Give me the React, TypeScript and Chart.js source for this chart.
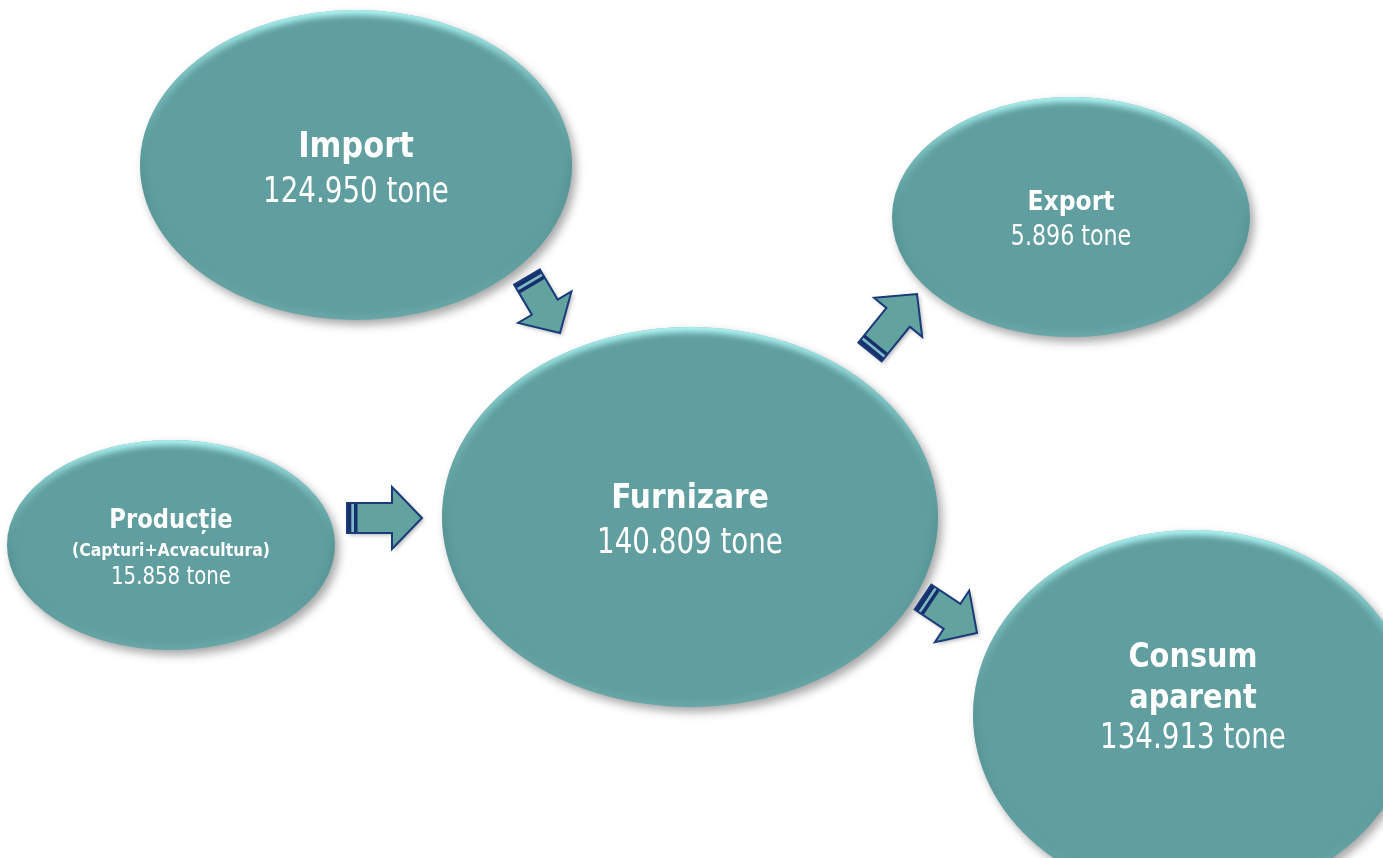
import React, { useEffect, useRef } from 'react';
import { Chart, registerables } from 'chart.js';

Chart.register(...registerables);

// ---------- data ----------
const NODE_NAMES = ['Import', 'Export', 'Producție', 'Furnizare', 'Consum aparent'];
const NODE_NOTES = ['', '', '(Capturi+Acvacultura)', '', ''];
const NODE_TONNES = [124950, 5896, 15858, 140809, 134913];
const UNIT = 'tone';
const FLOW_FROM = ['Import', 'Producție', 'Furnizare', 'Furnizare'];
const FLOW_TO = ['Furnizare', 'Furnizare', 'Export', 'Consum aparent'];

// ---------- layout (diagram units = hidden axis units) ----------
const W = 1383;
const H = 858;

type NodeLayout = {
  cx: number; cy: number; rx: number; ry: number;
  titleSize: number; noteSize: number; valueSize: number;
  wrap: boolean; baselines: number[];
};

const NODE_LAYOUT: Record<string, NodeLayout> = {
  'Import': { cx: 356, cy: 165, rx: 216, ry: 155, titleSize: 35, noteSize: 0, valueSize: 35, wrap: false, baselines: [157, 202] },
  'Export': { cx: 1071, cy: 217, rx: 179, ry: 120, titleSize: 27, noteSize: 0, valueSize: 28, wrap: false, baselines: [210, 245] },
  'Producție': { cx: 171, cy: 545, rx: 164, ry: 105, titleSize: 26, noteSize: 18, valueSize: 25, wrap: false, baselines: [528, 556, 584] },
  'Furnizare': { cx: 690, cy: 517, rx: 248, ry: 190, titleSize: 34, noteSize: 0, valueSize: 35, wrap: false, baselines: [508, 553] },
  'Consum aparent': { cx: 1193, cy: 715, rx: 220, ry: 185, titleSize: 33, noteSize: 0, valueSize: 35, wrap: true, baselines: [667, 708, 748] },
};

// tail point -> tip point for each flow arrow
const FLOW_LAYOUT = [
  { tx: 527, ty: 277, hx: 560, hy: 333 },
  { tx: 347, ty: 518, hx: 422, hy: 518 },
  { tx: 870, ty: 352, hx: 917, hy: 294 },
  { tx: 923, ty: 597, hx: 977, hy: 633 },
];

const SHAFT_W = 30;
const HEAD_W = 62;
const HEAD_L = 30;

const FILL = '#609e9f';
const ARROW_FILL = '#62a29f';
const NAVY = '#1b3a7a';
const NAVY_DARK = '#17306b';

const BOLD_FONT = '"DejaVu Sans Condensed", "DejaVu Sans", sans-serif';
const REG_FONT = '"DejaVu Sans Condensed", "DejaVu Sans", sans-serif';

function fmt(n: number): string {
  return String(n).replace(/\B(?=(\d{3})+(?!\d))/g, '.');
}

function drawEllipse(ctx: CanvasRenderingContext2D, x: number, y: number, rx: number, ry: number) {
  ctx.save();
  ctx.beginPath();
  ctx.ellipse(x, y, rx, ry, 0, 0, Math.PI * 2);
  ctx.shadowColor = 'rgba(0,0,0,0.35)';
  ctx.shadowBlur = 10;
  ctx.shadowOffsetX = 4;
  ctx.shadowOffsetY = 5;
  ctx.fillStyle = FILL;
  ctx.fill();
  ctx.restore();

  ctx.save();
  ctx.beginPath();
  ctx.ellipse(x, y, rx, ry, 0, 0, Math.PI * 2);
  ctx.clip();
  const g = ctx.createLinearGradient(0, y - ry, 0, y + ry);
  g.addColorStop(0, 'rgba(185,255,255,0.95)');
  g.addColorStop(0.25, 'rgba(150,225,225,0.45)');
  g.addColorStop(0.55, 'rgba(60,120,120,0.25)');
  g.addColorStop(1, 'rgba(130,190,190,0.3)');
  ctx.filter = 'blur(3px)';
  ctx.lineWidth = 10;
  ctx.strokeStyle = g;
  ctx.beginPath();
  ctx.ellipse(x, y, rx, ry, 0, 0, Math.PI * 2);
  ctx.stroke();
  ctx.restore();
}

function drawArrow(ctx: CanvasRenderingContext2D, tx: number, ty: number, hx: number, hy: number) {
  const dx = hx - tx;
  const dy = hy - ty;
  const L = Math.hypot(dx, dy);
  const ang = Math.atan2(dy, dx);
  ctx.save();
  ctx.translate(tx, ty);
  ctx.rotate(ang);
  const s = SHAFT_W / 2;
  const h = HEAD_W / 2;
  const b = L - HEAD_L;
  const path = () => {
    ctx.beginPath();
    ctx.moveTo(0, -s);
    ctx.lineTo(b, -s);
    ctx.lineTo(b, -h);
    ctx.lineTo(L, 0);
    ctx.lineTo(b, h);
    ctx.lineTo(b, s);
    ctx.lineTo(0, s);
    ctx.closePath();
  };
  ctx.save();
  path();
  ctx.shadowColor = 'rgba(0,0,0,0.3)';
  ctx.shadowBlur = 4;
  ctx.shadowOffsetX = 2;
  ctx.shadowOffsetY = 2;
  ctx.fillStyle = ARROW_FILL;
  ctx.fill();
  ctx.restore();
  // tail stripes
  ctx.fillStyle = NAVY_DARK;
  ctx.fillRect(0, -s, 4.5, SHAFT_W);
  ctx.fillStyle = '#7fb8c8';
  ctx.fillRect(4.5, -s, 2.5, SHAFT_W);
  ctx.fillStyle = NAVY_DARK;
  ctx.fillRect(7, -s, 3.5, SHAFT_W);
  path();
  ctx.lineWidth = 2;
  ctx.lineJoin = 'miter';
  ctx.strokeStyle = NAVY;
  ctx.stroke();
  ctx.restore();
}

function drawText(ctx: CanvasRenderingContext2D, text: string, x: number, y: number, font: string, sx: number) {
  ctx.save();
  ctx.translate(x, y);
  ctx.scale(sx, 1);
  ctx.font = font;
  ctx.textAlign = 'center';
  ctx.textBaseline = 'alphabetic';
  ctx.fillStyle = '#ffffff';
  ctx.fillText(text, 0, 0);
  ctx.restore();
}

const diagramPlugin = {
  id: 'flowDiagram',
  afterDatasetsDraw(chart: any) {
    const ctx: CanvasRenderingContext2D = chart.ctx;
    const xs = chart.scales.x;
    const ys = chart.scales.y;
    const px = (v: number) => xs.getPixelForValue(v);
    const py = (v: number) => ys.getPixelForValue(v);

    NODE_NAMES.forEach((name) => {
      const l = NODE_LAYOUT[name];
      const x = px(l.cx);
      const y = py(l.cy);
      const rx = Math.abs(px(l.cx + l.rx) - x);
      const ry = Math.abs(py(l.cy + l.ry) - y);
      drawEllipse(ctx, x, y, rx, ry);
    });

    FLOW_FROM.forEach((_, i) => {
      const a = FLOW_LAYOUT[i];
      drawArrow(ctx, px(a.tx), py(a.ty), px(a.hx), py(a.hy));
    });

    NODE_NAMES.forEach((name, i) => {
      const l = NODE_LAYOUT[name];
      const x = px(l.cx);
      const titleLines = l.wrap ? name.split(' ') : [name];
      let k = 0;
      titleLines.forEach((t) => {
        drawText(ctx, t, x, py(l.baselines[k++]), `bold ${l.titleSize}px ${BOLD_FONT}`, 0.97);
      });
      if (NODE_NOTES[i]) {
        drawText(ctx, NODE_NOTES[i], x, py(l.baselines[k++]), `bold ${l.noteSize}px ${BOLD_FONT}`, 0.97);
      }
      drawText(ctx, `${fmt(NODE_TONNES[i])} ${UNIT}`, x, py(l.baselines[k++]), `${l.valueSize}px ${REG_FONT}`, 0.88);
    });
  },
};

export default function App() {
  const ref = useRef<HTMLCanvasElement | null>(null);
  useEffect(() => {
    document.body.style.margin = '0';
    document.body.style.overflow = 'hidden';
    document.body.style.background = '#ffffff';
    if (!ref.current) return;
    const chart = new Chart(ref.current, {
      type: 'scatter',
      data: {
        datasets: [
          {
            label: 'Noduri',
            data: NODE_NAMES.map((n) => ({ x: NODE_LAYOUT[n].cx, y: NODE_LAYOUT[n].cy })),
            pointRadius: 0,
            pointHoverRadius: 0,
          },
        ],
      },
      options: {
        animation: false,
        responsive: true,
        maintainAspectRatio: false,
        layout: { padding: 0 },
        events: [],
        plugins: { legend: { display: false }, tooltip: { enabled: false }, title: { display: false } },
        scales: {
          x: { type: 'linear', min: 0, max: W, display: false },
          y: { type: 'linear', min: 0, max: H, reverse: true, display: false },
        },
      },
      plugins: [diagramPlugin],
    });
    return () => chart.destroy();
  }, []);
  return (
    <div style={{ position: 'relative', width: W, height: H, background: '#fff' }}>
      <canvas ref={ref} />
    </div>
  );
}
